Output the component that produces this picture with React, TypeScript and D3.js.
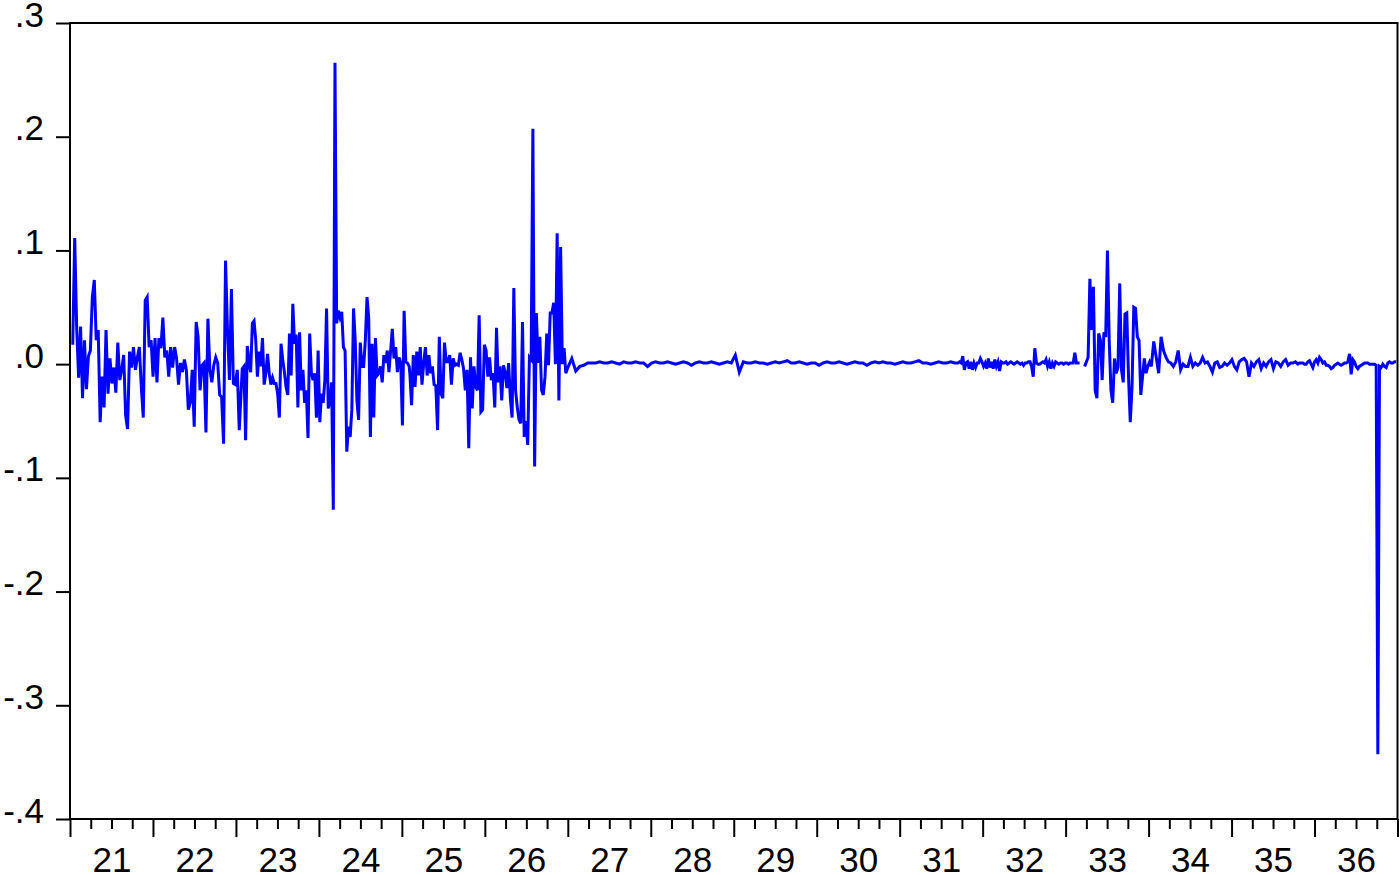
import React, { useEffect, useRef } from "react";
import * as d3 from "d3";

// values, one array per stretch of the series
const s2021 = [
  .017, .111, .033, -.012, .033, -.03, .021, -.022, .007, .012, .059, .074, .021, .03, -.051, -.011,
  -.038, .03, -.026, .005, -.017, -.003, -.025, .019, -.014, -.005, .008, -.045, -.057, .011, -.003,
  .015, -.005, .006, .015, -.02, -.047, .056, .059, .015, .021, -.011, .023, -.016, .023, .014, .041,
  .006, .012, -.011, .015, -.003, .015, .005, -.018, .001, -.007, .004, -.005, -.04, -.034, -.005,
  -.055, .037, .024, -.023, -.001, .001, -.06, .04, -.005, -.016, -.001, .006, .001, -.027, -.029,
  -.07, .091, .03, -.014, .066, -.017, -.018, -.005, -.058,
];
const s2023 = [
  -.004, -.002, -.067, .016, .001, -.007, .036, .038, .021, -.011, .011, -.002, .023, -.018, -.008,
  .009, -.008, -.018, -.012, -.017, -.017, -.026, -.047, .018, .004, -.007, -.02, -.027, .027, -.01,
  .053, .018, .026, -.038, .028, -.023, -.005, -.034, -.023, -.065, .027, -.008, -.014, -.008, -.047,
  .012, -.051, -.026, -.034, -.014, .049, -.039, -.032, -.016, -.128, .265, .036, .047, .041, .046,
  .015, .012, -.077, -.055, -.064, -.04, .049, .021, -.032, -.049, .019, -.002, -.002, .021, .059,
  .041, -.064, .018, -.047, .023, -.01, -.008, -.002, -.016, .008, .001, .012, -.007, .012, .031,
  .005, .015, -.007, .006, .001, -.054, .047, .002, .001, -.002,
];
const s2025 = [
  -.008, -.036, .008, -.02, .011, -.01, .015, -.018, .001, .015, -.01, .008, -.008, -.002, -.018,
  -.019, -.058, .024, -.026, -.03, .019, .002, .002, .008, -.018, .005, -.001, 0, -.001, .01, .004,
  -.004, -.023, -.005, -.074, .006, -.039, -.002, -.02, -.023, .043, -.042, -.04, .017, .012, -.011,
  .006, -.014, -.008, -.038, .032, -.016, -.002, -.032, -.001, -.007, -.021, .001, -.03, -.047, .067,
  -.023, -.038, -.049, -.052, .037, -.064, -.05, -.071, .006, .004, .207, -.09, .045, .001, .024,
  -.023, -.027, -.011, .027, -.001, .045, .045, .054, 0, .115, -.032, .103, 0, .014, -.008,
];
const s2027 = [
  -.003, .005, -.006, -.002, -.001, .001, .001, .001, .002, .001, .001, .002, .001, 0, .002, .001,
  .001, .002, .001, .001, -.002, .001, .002, .001, .001, .002, .001, 0, .001, .002, .001, -.001, .001,
  .002, .001, .001, .002, .001, 0, .001, .002, .001, .008, -.007, .002, .001, .001, .002, .001, .001,
  0, .001, .002, .001, .002, .003, .001, .001, .002, .001, 0, .001, .001, -.001, .001, .002, .001,
  .001, .002, .001, 0, .001, .002, .001, .001, -.001, .001, .002, .001, .002, .001, .001, 0, .001,
  .002, .001, .001, .002, .003, .001, .001, 0, .001, .002, .001, .001, .002, .001,
];
const s2031 = [
  .001, .001, .002, .001, .007, -.005, .001, .002, -.004, .002, -.005, .001, -.003, .001, .001, .005,
  .002, -.002, .001, -.004, .005, -.003, .002, -.004, .004, -.002, .002, -.006, .002, .001, .001,
  .002, 0, .001, .002, .001, 0, .001, .002, .001, 0, .001, -.001, .001, .001, .002, .002, -.002,
  -.011, .014, .001, 0, 0, .001, .002, .001, .004, -.002, .002, -.004, .001, -.002, .002, .001, 0,
  .001, .001, 0, .001, .001, 0, .001, .001, .001, .01, .001, .001, .001,
];
const s2033 = [
  -.002, .002, .006, .075, .03, .068, -.023, -.03, .027, .021, -.014, .028, .024, .1, .021, -.023,
  -.034, .005, -.008, -.003, .071, -.005, -.016, .044, .045, -.011, -.051, -.02, .05, .049, .024,
  .021, -.027, -.011, .005, -.008, -.002, .002,
];
const s2034 = [
  -.002, .02, .006, -.008, .024, .012, .006, .002, .001, -.002, .002, .012, -.005, 0, -.002, -.002,
  .006, -.002, .001, -.001, .001, .006, .001, .002, -.002, -.007, .001, .002, -.003, -.002, .001,
  -.001, .001, .004, -.002, -.005, .002, .004, .005, .002, -.011, .001, -.002, .002, .004, -.004,
  .001, -.002, .002, .004, -.004, .002, .001, -.002, .002, .004, -.001, .001, .001, .002, 0,
];
const s2035 = [
  .001, .001, .001, 0, 0, .002, .003, 0, -.003, .002, .004, .001, .006, .004, .001, .002, -.001,
  -.001, -.002, -.004, -.003, -.001, 0, .001, 0, -.001, 0, .001, .001, .002, .009, -.009, .004, .002,
  -.002, -.004, -.002, -.001, 0, .001, .001, .001, 0, 0, 0, 0, -.001, -.343, -.002, -.003, 0, -.002,
  -.003, .001, .002, .001, .001, .002, .002,
];

// first and last date (decimal year) of each stretch; the series has a gap after the 5th
const segStart = [2021.033, 2023.076, 2025.096, 2027.0, 2031.683, 2033.229, 2034.033, 2035.819];
const segEnd = [2023.04, 2025.088, 2026.976, 2031.663, 2033.169, 2034.012, 2035.799, 2036.984];
const gapAfter = [false, false, false, false, true, false, false, false];

const xYears = [2021, 2022, 2023, 2024, 2025, 2026, 2027, 2028, 2029, 2030, 2031, 2032, 2033, 2034, 2035, 2036];
const xLabels = ["21", "22", "23", "24", "25", "26", "27", "28", "29", "30", "31", "32", "33", "34", "35", "36"];
const yTicks = [0.3, 0.2, 0.1, 0, -0.1, -0.2, -0.3, -0.4];
const yTickLabels = [".3", ".2", ".1", ".0", "-.1", "-.2", "-.3", "-.4"];

const segments = [s2021, s2023, s2025, s2027, s2031, s2033, s2034, s2035];

function App() {
  const svgRef = useRef(null);
  const width = 1400;
  const height = 875;
  const margin = { top: 23, right: 2.5, bottom: 56, left: 70 };
  const font = "'Liberation Sans', Arial, sans-serif";

  useEffect(() => {
    const svg = d3.select(svgRef.current);
    svg.selectAll("*").remove();

    const x = d3
      .scaleLinear()
      .domain([xYears[0], xYears[xYears.length - 1] + 1])
      .range([margin.left, width - margin.right]);
    const y = d3
      .scaleLinear()
      .domain([-0.4, 0.3])
      .range([height - margin.bottom, margin.top]);

    const points = [];
    segments.forEach((vals, k) => {
      const n = vals.length;
      vals.forEach((v, i) => {
        points.push({ t: segStart[k] + ((segEnd[k] - segStart[k]) * i) / (n - 1), v });
      });
      if (gapAfter[k]) points.push({ t: segEnd[k], v: null });
    });

    const line = d3
      .line()
      .defined((d) => d.v !== null)
      .x((d) => x(d.t))
      .y((d) => y(d.v));

    svg
      .append("path")
      .datum(points)
      .attr("d", line)
      .attr("fill", "none")
      .attr("stroke", "#0000ff")
      .attr("stroke-width", 3);

    // frame
    svg
      .append("rect")
      .attr("x", margin.left)
      .attr("y", margin.top)
      .attr("width", width - margin.left - margin.right)
      .attr("height", height - margin.top - margin.bottom)
      .attr("fill", "none")
      .attr("stroke", "#000")
      .attr("stroke-width", 2);

    // y axis
    const gy = svg
      .append("g")
      .attr("transform", `translate(${margin.left},0)`)
      .call(
        d3
          .axisLeft(y)
          .tickValues(yTicks)
          .tickSize(14)
          .tickPadding(12)
          .tickFormat((d, i) => yTickLabels[i])
      )
      .attr("font-size", 35)
      .attr("font-family", font);
    gy.select(".domain").remove();
    gy.selectAll("line").attr("stroke-width", 2);
    gy.selectAll("text").attr("dy", 3).attr("fill", "#000");

    // x axis: quarter ticks, year ticks, labels centred in each year
    const quarters = [];
    xYears.forEach((yr) => [0.25, 0.5, 0.75].forEach((q) => quarters.push(yr + q)));
    const yearEdges = xYears.concat([xYears[xYears.length - 1] + 1]);
    const bottom = height - margin.bottom;

    const gMinor = svg
      .append("g")
      .attr("transform", `translate(0,${bottom})`)
      .call(d3.axisBottom(x).tickValues(quarters).tickSize(10).tickFormat(() => ""));
    gMinor.select(".domain").remove();
    gMinor.selectAll("line").attr("stroke-width", 2);

    const gMajor = svg
      .append("g")
      .attr("transform", `translate(0,${bottom})`)
      .call(d3.axisBottom(x).tickValues(yearEdges).tickSize(18).tickFormat(() => ""));
    gMajor.select(".domain").remove();
    gMajor.selectAll("line").attr("stroke-width", 2);

    const gLab = svg
      .append("g")
      .attr("transform", `translate(0,${bottom})`)
      .call(
        d3
          .axisBottom(x)
          .tickValues(xYears.map((yr) => yr + 0.5))
          .tickSize(0)
          .tickFormat((d, i) => xLabels[i])
      )
      .attr("font-size", 35)
      .attr("font-family", font);
    gLab.select(".domain").remove();
    gLab.selectAll("text").attr("y", 53).attr("dy", 0).attr("fill", "#000");
  }, []);

  return (
    <svg
      ref={svgRef}
      width={width}
      height={height}
      style={{ position: "absolute", left: 0, top: 0, background: "#fff" }}
    />
  );
}

export default App;
